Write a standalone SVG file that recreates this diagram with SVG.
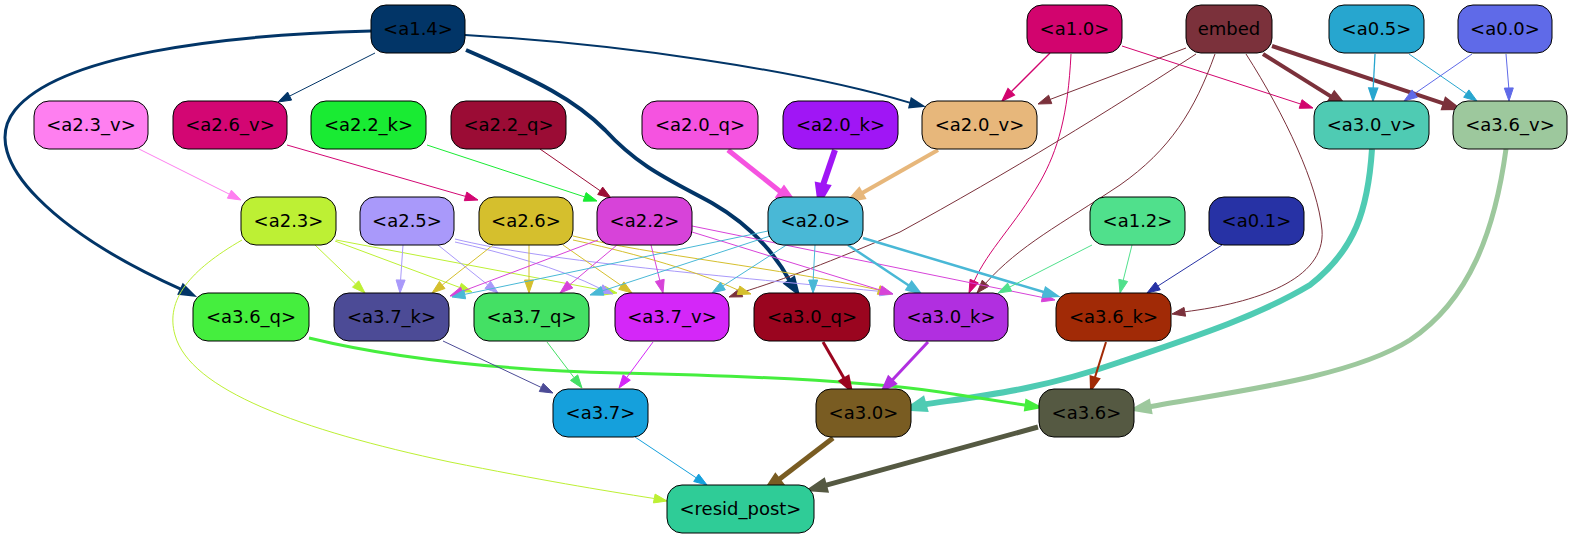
<svg xmlns="http://www.w3.org/2000/svg" width="1573" height="539" viewBox="0 0 1573 539">
<style>
.node rect{stroke:#000;stroke-width:1}
.node text{font-family:"DejaVu Sans","Liberation Sans",sans-serif;font-size:18px;text-anchor:middle;fill:#000}
.edge path{fill:none}
.edge polygon{stroke-linejoin:miter}
</style>
<rect width="1573" height="539" fill="#fff"/>
<g id="edges">
<g class="edge" stroke="#023567" fill="#023567" stroke-width="3"><path d="M371,31 C220,35 60,55 15,110 C-25,160 60,235 181.3,289.4"/><polygon points="183.2,285.3 179.4,293.5 193,295"/></g>
<g class="edge" stroke="#023567" fill="#023567" stroke-width="1"><path d="M375,53 L289.6,96.1"/><polygon points="287.6,92.1 291.6,100.1 278,102"/></g>
<g class="edge" stroke="#023567" fill="#023567" stroke-width="2"><path d="M465,35 C620,44 800,70 910.4,102.9"/><polygon points="909.3,107.3 911.5,98.5 923,106"/></g>
<g class="edge" stroke="#023567" fill="#023567" stroke-width="4"><path d="M466,50 C540,82 575,100 605,130 C640,168 670,180 712,203 C752,226 775,254 789.9,281.1"/><polygon points="786.1,283.6 793.6,278.6 797,292"/></g>
<g class="edge" stroke="#d2046e" fill="#d2046e" stroke-width="1.3"><path d="M1050,53 L1011.2,91.8"/><polygon points="1014.4,95 1008,88.6 1002,101"/></g>
<g class="edge" stroke="#d2046e" fill="#d2046e" stroke-width="1"><path d="M1122,46 L1300.6,104"/><polygon points="1299.2,108.3 1302,99.7 1313,108"/></g>
<g class="edge" stroke="#d2046e" fill="#d2046e" stroke-width="1"><path d="M1071,54 C1068,115 1058,150 1040,182 C1015,225 988,250 974.2,281.1"/><polygon points="978.3,282.9 970.1,279.3 969,293"/></g>
<g class="edge" stroke="#7b313b" fill="#7b313b" stroke-width="1"><path d="M1186,48 L1050.2,99.4"/><polygon points="1051.8,103.6 1048.6,95.2 1038,104"/></g>
<g class="edge" stroke="#7b313b" fill="#7b313b" stroke-width="4"><path d="M1263,54 L1332,97.1"/><polygon points="1329.6,100.9 1334.4,93.3 1343,104"/></g>
<g class="edge" stroke="#7b313b" fill="#7b313b" stroke-width="4"><path d="M1272,46 L1444.7,103.9"/><polygon points="1443.3,108.2 1446.1,99.6 1457,108"/></g>
<g class="edge" stroke="#7b313b" fill="#7b313b" stroke-width="1"><path d="M1196,54 C1110,110 1010,172 900,232 C830,262 785,279 741.2,292.6"/><polygon points="742.7,296.8 739.7,288.4 729,297"/></g>
<g class="edge" stroke="#7b313b" fill="#7b313b" stroke-width="1"><path d="M1215,54 C1195,110 1170,150 1120,185 C1060,225 1020,245 985.6,283.3"/><polygon points="989,286.2 982.2,280.3 977,293"/></g>
<g class="edge" stroke="#7b313b" fill="#7b313b" stroke-width="1"><path d="M1246,54 C1285,115 1318,185 1322,230 C1326,280 1255,303 1184.8,311.8"/><polygon points="1185.6,316.2 1184,307.4 1172,314"/></g>
<g class="edge" stroke="#27a6cf" fill="#27a6cf" stroke-width="1.3"><path d="M1375,54 L1373.2,88"/><polygon points="1368.7,88 1377.7,88.2 1373,101"/></g>
<g class="edge" stroke="#27a6cf" fill="#27a6cf" stroke-width="1"><path d="M1409,54 L1466.3,93.6"/><polygon points="1463.7,97.3 1468.9,89.9 1477,101"/></g>
<g class="edge" stroke="#5f6ae8" fill="#5f6ae8" stroke-width="1"><path d="M1472,54 L1414.7,93.6"/><polygon points="1417.3,97.3 1412.1,89.9 1404,101"/></g>
<g class="edge" stroke="#5f6ae8" fill="#5f6ae8" stroke-width="1"><path d="M1506,54 L1508.8,88"/><polygon points="1504.3,88.1 1513.3,87.9 1509,101"/></g>
<g class="edge" stroke="#fe7ff0" fill="#fe7ff0" stroke-width="1"><path d="M139,149 L229.4,194.2"/><polygon points="227.4,198.2 231.4,190.2 241,200"/></g>
<g class="edge" stroke="#d30673" fill="#d30673" stroke-width="1"><path d="M287,145 L465.5,196.4"/><polygon points="464.3,200.7 466.8,192.1 478,200"/></g>
<g class="edge" stroke="#19eb33" fill="#19eb33" stroke-width="1"><path d="M427,145 L584.65,196.9"/><polygon points="583.2,201.2 586.1,192.6 597,201"/></g>
<g class="edge" stroke="#9b0c35" fill="#9b0c35" stroke-width="1"><path d="M540,149 L600.2,190.8"/><polygon points="597.7,194.5 602.7,187.1 611,198"/></g>
<g class="edge" stroke="#f553e0" fill="#f553e0" stroke-width="5"><path d="M728,150 L781.4,192.5"/><polygon points="778.8,196.2 784,188.8 792,200"/></g>
<g class="edge" stroke="#a016f5" fill="#a016f5" stroke-width="6"><path d="M835,150 L822.6,186.3"/><polygon points="827,187.2 818.2,185.4 820,199"/></g>
<g class="edge" stroke="#e7b77b" fill="#e7b77b" stroke-width="4"><path d="M938,150 L861.3,193.6"/><polygon points="863.5,197.5 859.1,189.7 850,200"/></g>
<g class="edge" stroke="#4fcbb3" fill="#4fcbb3" stroke-width="6"><path d="M1372,149 C1368,210 1355,250 1310,285 C1260,315 1200,335 1120,362 C1040,390 980,396 923.5,404.5"/><polygon points="924.7,408.8 922.3,400.2 911,408"/></g>
<g class="edge" stroke="#9dc89d" fill="#9dc89d" stroke-width="5"><path d="M1506,149 C1495,230 1470,300 1410,340 C1350,378 1230,392 1148.8,406.8"/><polygon points="1149.6,411.2 1148,402.4 1136,409"/></g>
<g class="edge" stroke="#bdf034" fill="#bdf034" stroke-width="1"><path d="M242,240 C190,270 165,300 175,335 C190,390 300,430 450,462 C540,480 600,490 654.2,498.5"/><polygon points="653.4,502.9 655.1,494.1 667,501"/></g>
<g class="edge" stroke="#bdf034" fill="#bdf034" stroke-width="1"><path d="M315,245 L355.6,284"/><polygon points="352.5,287.2 358.7,280.8 365,293"/></g>
<g class="edge" stroke="#bdf034" fill="#bdf034" stroke-width="1"><path d="M335,241 L459.8,287.5"/><polygon points="458.2,291.7 461.4,283.3 472,292"/></g>
<g class="edge" stroke="#bdf034" fill="#bdf034" stroke-width="1"><path d="M336,240 L604.2,290.6"/><polygon points="603.4,295 605,286.2 617,293"/></g>
<g class="edge" stroke="#a999fa" fill="#a999fa" stroke-width="1"><path d="M403,245 L400.6,280"/><polygon points="396.1,279.9 405.1,280.1 400,293"/></g>
<g class="edge" stroke="#a999fa" fill="#a999fa" stroke-width="1"><path d="M438,245 L487.8,284.9"/><polygon points="485,288.4 490.6,281.4 498,293"/></g>
<g class="edge" stroke="#a999fa" fill="#a999fa" stroke-width="1"><path d="M455,242 C500,252 560,268 601,288.9"/><polygon points="599.2,293 602.8,284.8 613,294"/></g>
<g class="edge" stroke="#a999fa" fill="#a999fa" stroke-width="1"><path d="M455,239 C540,260 700,274 880.3,291.4"/><polygon points="879.4,295.8 881.2,287 893,294"/></g>
<g class="edge" stroke="#d5bf2d" fill="#d5bf2d" stroke-width="1"><path d="M493,245 L442.2,285"/><polygon points="445,288.5 439.4,281.5 432,293"/></g>
<g class="edge" stroke="#d5bf2d" fill="#d5bf2d" stroke-width="1"><path d="M529,245 L529,280"/><polygon points="524.5,280 533.5,280 529,293"/></g>
<g class="edge" stroke="#d5bf2d" fill="#d5bf2d" stroke-width="1"><path d="M563,245 L621.3,285.6"/><polygon points="618.7,289.3 623.9,281.9 632,293"/></g>
<g class="edge" stroke="#d5bf2d" fill="#d5bf2d" stroke-width="1"><path d="M573,240 C620,250 690,268 738.5,290.3"/><polygon points="737.2,294.6 739.8,286 751,294"/></g>
<g class="edge" stroke="#d5bf2d" fill="#d5bf2d" stroke-width="1"><path d="M573,236 C650,255 780,268 878.65,290"/><polygon points="877.3,294.3 880.1,285.7 891,294"/></g>
<g class="edge" stroke="#d743d9" fill="#d743d9" stroke-width="1"><path d="M598,240 L462.2,291.4"/><polygon points="463.8,295.6 460.6,287.2 450,296"/></g>
<g class="edge" stroke="#d743d9" fill="#d743d9" stroke-width="1"><path d="M617,245 L569.9,284.6"/><polygon points="572.8,288 567,281.2 560,293"/></g>
<g class="edge" stroke="#d743d9" fill="#d743d9" stroke-width="1"><path d="M651,245 L659.8,280.4"/><polygon points="655.4,281.5 664.2,279.3 663,293"/></g>
<g class="edge" stroke="#d743d9" fill="#d743d9" stroke-width="1"><path d="M692,232 L880.6,290.2"/><polygon points="879.3,294.5 881.9,285.9 893,294"/></g>
<g class="edge" stroke="#d743d9" fill="#d743d9" stroke-width="1"><path d="M692,226 L1042.3,297.4"/><polygon points="1041.4,301.8 1043.2,293 1055,300"/></g>
<g class="edge" stroke="#49b8d6" fill="#49b8d6" stroke-width="1"><path d="M768,231 L464.7,294.35"/><polygon points="465.6,298.8 463.8,289.9 452,297"/></g>
<g class="edge" stroke="#49b8d6" fill="#49b8d6" stroke-width="1"><path d="M770,236 L602.4,290.9"/><polygon points="603.8,295.2 601,286.6 590,295"/></g>
<g class="edge" stroke="#49b8d6" fill="#49b8d6" stroke-width="1"><path d="M788,244 L722.9,286"/><polygon points="725.3,289.8 720.5,282.2 712,293"/></g>
<g class="edge" stroke="#49b8d6" fill="#49b8d6" stroke-width="1"><path d="M815,245 L813.2,280"/><polygon points="808.7,280 817.7,280 813,293"/></g>
<g class="edge" stroke="#49b8d6" fill="#49b8d6" stroke-width="2.5"><path d="M848,245 L909.2,285.8"/><polygon points="906.7,289.5 911.7,282.1 920,293"/></g>
<g class="edge" stroke="#49b8d6" fill="#49b8d6" stroke-width="2.5"><path d="M863,238 L1044.5,292.3"/><polygon points="1043.2,296.6 1045.8,288 1057,296"/></g>
<g class="edge" stroke="#50e08c" fill="#50e08c" stroke-width="1"><path d="M1092,245 L1009.6,287.1"/><polygon points="1011.6,291.1 1007.6,283.1 998,293"/></g>
<g class="edge" stroke="#50e08c" fill="#50e08c" stroke-width="1"><path d="M1132,245 L1123.2,280.4"/><polygon points="1127.6,281.5 1118.8,279.3 1120,293"/></g>
<g class="edge" stroke="#2732a5" fill="#2732a5" stroke-width="1"><path d="M1222,245 L1157.9,286"/><polygon points="1160.3,289.8 1155.5,282.2 1147,293"/></g>
<g class="edge" stroke="#45ee3e" fill="#45ee3e" stroke-width="3"><path d="M309,338 C400,360 500,370 620,373 C760,376 870,382 940,392 C980,398 1005,402 1026.1,405.2"/><polygon points="1025.5,409.7 1026.7,400.7 1039,407"/></g>
<g class="edge" stroke="#4c4b96" fill="#4c4b96" stroke-width="1"><path d="M443,341 L541.25,387.45"/><polygon points="539.3,391.5 543.2,383.4 553,393"/></g>
<g class="edge" stroke="#44e064" fill="#44e064" stroke-width="1"><path d="M547,342 L574.1,377.65"/><polygon points="570.5,380.4 577.7,374.9 582,388"/></g>
<g class="edge" stroke="#d427f8" fill="#d427f8" stroke-width="1"><path d="M653,342 L626.7,377.55"/><polygon points="630.3,380.2 623.1,374.9 619,388"/></g>
<g class="edge" stroke="#9a051f" fill="#9a051f" stroke-width="3"><path d="M823,342 L844.3,378.8"/><polygon points="840.4,381.1 848.2,376.5 851,390"/></g>
<g class="edge" stroke="#b12fe0" fill="#b12fe0" stroke-width="3"><path d="M928,342 L891.9,380.5"/><polygon points="895.2,383.6 888.6,377.4 883,390"/></g>
<g class="edge" stroke="#a12a06" fill="#a12a06" stroke-width="2"><path d="M1106,342 L1094.9,377.6"/><polygon points="1099.2,378.9 1090.6,376.3 1091,390"/></g>
<g class="edge" stroke="#15a0dc" fill="#15a0dc" stroke-width="1"><path d="M635,437 L696.2,477.8"/><polygon points="693.7,481.5 698.7,474.1 707,485"/></g>
<g class="edge" stroke="#795c22" fill="#795c22" stroke-width="5"><path d="M833,438 L778.3,480.1"/><polygon points="781,483.7 775.5,476.5 768,488"/></g>
<g class="edge" stroke="#555942" fill="#555942" stroke-width="5"><path d="M1038,427 L824.5,485.6"/><polygon points="825.7,489.9 823.3,481.3 812,489"/></g>
</g>
<g id="node-a1.4" class="node"><rect x="371" y="5" width="94" height="48" rx="15" fill="#023567"/><text x="418" y="35">&lt;a1.4&gt;</text></g>
<g id="node-a1.0" class="node"><rect x="1027" y="5" width="95" height="48" rx="15" fill="#d2046e"/><text x="1074.5" y="35">&lt;a1.0&gt;</text></g>
<g id="node-embed" class="node"><rect x="1186" y="5" width="86" height="48" rx="15" fill="#7b313b"/><text x="1229" y="35">embed</text></g>
<g id="node-a0.5" class="node"><rect x="1329" y="5" width="95" height="48" rx="15" fill="#27a6cf"/><text x="1376.5" y="35">&lt;a0.5&gt;</text></g>
<g id="node-a0.0" class="node"><rect x="1458" y="5" width="94" height="48" rx="15" fill="#5f6ae8"/><text x="1505" y="35">&lt;a0.0&gt;</text></g>
<g id="node-a2.3_v" class="node"><rect x="34" y="101" width="114" height="48" rx="15" fill="#fe7ff0"/><text x="91" y="131">&lt;a2.3_v&gt;</text></g>
<g id="node-a2.6_v" class="node"><rect x="173" y="101" width="114" height="48" rx="15" fill="#d30673"/><text x="230" y="131">&lt;a2.6_v&gt;</text></g>
<g id="node-a2.2_k" class="node"><rect x="311" y="101" width="115" height="48" rx="15" fill="#19eb33"/><text x="368.5" y="131">&lt;a2.2_k&gt;</text></g>
<g id="node-a2.2_q" class="node"><rect x="451" y="101" width="115" height="48" rx="15" fill="#9b0c35"/><text x="508.5" y="131">&lt;a2.2_q&gt;</text></g>
<g id="node-a2.0_q" class="node"><rect x="642" y="101" width="116" height="48" rx="15" fill="#f553e0"/><text x="700" y="131">&lt;a2.0_q&gt;</text></g>
<g id="node-a2.0_k" class="node"><rect x="783" y="101" width="115" height="48" rx="15" fill="#a016f5"/><text x="840.5" y="131">&lt;a2.0_k&gt;</text></g>
<g id="node-a2.0_v" class="node"><rect x="922" y="101" width="115" height="48" rx="15" fill="#e7b77b"/><text x="979.5" y="131">&lt;a2.0_v&gt;</text></g>
<g id="node-a3.0_v" class="node"><rect x="1314" y="101" width="115" height="48" rx="15" fill="#4fcbb3"/><text x="1371.5" y="131">&lt;a3.0_v&gt;</text></g>
<g id="node-a3.6_v" class="node"><rect x="1453" y="101" width="114" height="48" rx="15" fill="#9dc89d"/><text x="1510" y="131">&lt;a3.6_v&gt;</text></g>
<g id="node-a2.3" class="node"><rect x="241" y="197" width="95" height="48" rx="15" fill="#bdf034"/><text x="288.5" y="227">&lt;a2.3&gt;</text></g>
<g id="node-a2.5" class="node"><rect x="360" y="197" width="94" height="48" rx="15" fill="#a999fa"/><text x="407" y="227">&lt;a2.5&gt;</text></g>
<g id="node-a2.6" class="node"><rect x="479" y="197" width="94" height="48" rx="15" fill="#d5bf2d"/><text x="526" y="227">&lt;a2.6&gt;</text></g>
<g id="node-a2.2" class="node"><rect x="597" y="197" width="95" height="48" rx="15" fill="#d743d9"/><text x="644.5" y="227">&lt;a2.2&gt;</text></g>
<g id="node-a2.0" class="node"><rect x="768" y="197" width="95" height="48" rx="15" fill="#49b8d6"/><text x="815.5" y="227">&lt;a2.0&gt;</text></g>
<g id="node-a1.2" class="node"><rect x="1090" y="197" width="95" height="48" rx="15" fill="#50e08c"/><text x="1137.5" y="227">&lt;a1.2&gt;</text></g>
<g id="node-a0.1" class="node"><rect x="1209" y="197" width="95" height="48" rx="15" fill="#2732a5"/><text x="1256.5" y="227">&lt;a0.1&gt;</text></g>
<g id="node-a3.6_q" class="node"><rect x="193" y="293" width="116" height="48" rx="15" fill="#45ee3e"/><text x="251" y="323">&lt;a3.6_q&gt;</text></g>
<g id="node-a3.7_k" class="node"><rect x="334" y="293" width="115" height="48" rx="15" fill="#4c4b96"/><text x="391.5" y="323">&lt;a3.7_k&gt;</text></g>
<g id="node-a3.7_q" class="node"><rect x="474" y="293" width="115" height="48" rx="15" fill="#44e064"/><text x="531.5" y="323">&lt;a3.7_q&gt;</text></g>
<g id="node-a3.7_v" class="node"><rect x="615" y="293" width="114" height="48" rx="15" fill="#d427f8"/><text x="672" y="323">&lt;a3.7_v&gt;</text></g>
<g id="node-a3.0_q" class="node"><rect x="754" y="293" width="116" height="48" rx="15" fill="#9a051f"/><text x="812" y="323">&lt;a3.0_q&gt;</text></g>
<g id="node-a3.0_k" class="node"><rect x="894" y="293" width="114" height="48" rx="15" fill="#b12fe0"/><text x="951" y="323">&lt;a3.0_k&gt;</text></g>
<g id="node-a3.6_k" class="node"><rect x="1056" y="293" width="115" height="48" rx="15" fill="#a12a06"/><text x="1113.5" y="323">&lt;a3.6_k&gt;</text></g>
<g id="node-a3.7" class="node"><rect x="553" y="389" width="95" height="48" rx="15" fill="#15a0dc"/><text x="600.5" y="419">&lt;a3.7&gt;</text></g>
<g id="node-a3.0" class="node"><rect x="816" y="389" width="95" height="48" rx="15" fill="#795c22"/><text x="863.5" y="419">&lt;a3.0&gt;</text></g>
<g id="node-a3.6" class="node"><rect x="1039" y="389" width="95" height="48" rx="15" fill="#555942"/><text x="1086.5" y="419">&lt;a3.6&gt;</text></g>
<g id="node-resid_post" class="node"><rect x="667" y="485" width="147" height="48" rx="15" fill="#2fcc97"/><text x="740.5" y="515">&lt;resid_post&gt;</text></g>
</svg>
